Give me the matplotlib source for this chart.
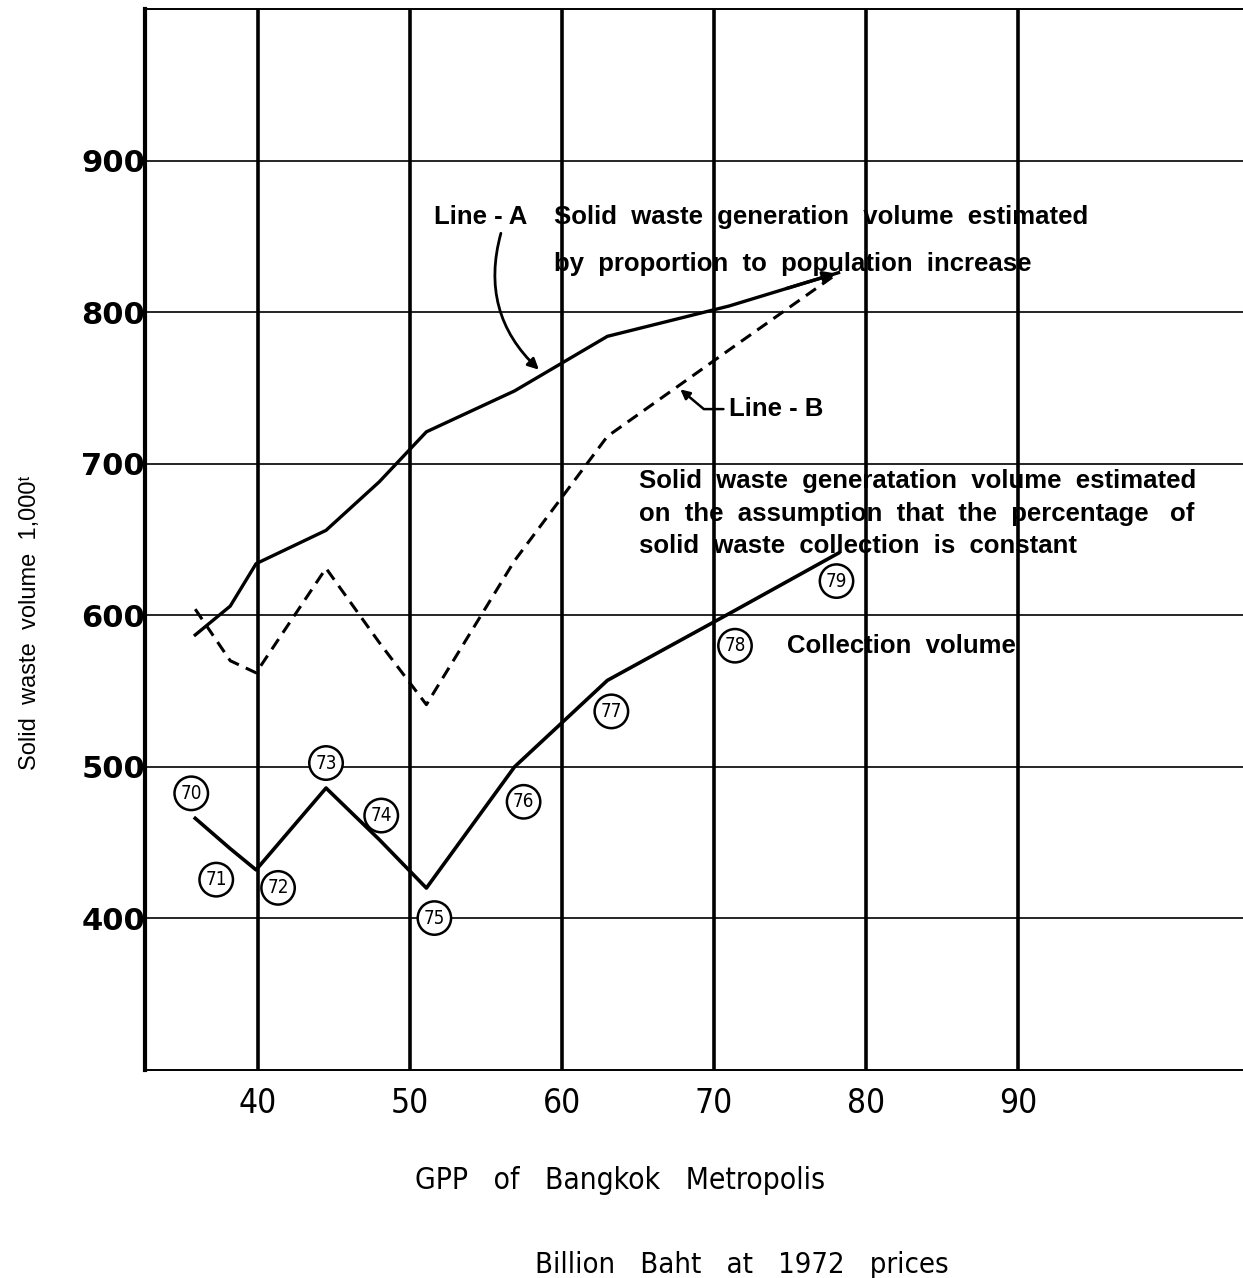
import matplotlib.pyplot as plt

# GPP (billion baht, 1972 prices) for the years 1970-1979
years = ["70", "71", "72", "73", "74", "75", "76", "77", "78", "79"]
gpp = [35.9, 38.2, 39.9, 44.5, 48.0, 51.1, 56.9, 63.0, 71.0, 78.2]

# solid waste volume, 1,000 t
line_a = [587, 606, 634, 656, 688, 721, 748, 784, 804, 826]
line_b = [604, 570, 562, 631, 582, 541, 636, 718, 775, 826]
collection = [466, 446, 432, 486, 452, 420, 500, 557, 601, 641]

x_ticks = [40, 50, 60, 70, 80, 90]
y_ticks = [400, 500, 600, 700, 800, 900]

# where the circled year numbers sit, in pixels from their point
label_offsets = [(-4, 25), (-14, -31), (22, -18), (0, 25), (2, 24),
                 (8, -30), (9, -35), (4, -31), (6, -32), (-2, -28)]

narrow = ["Liberation Sans Narrow", "DejaVu Sans"]
txt = dict(family="Liberation Sans", fontweight="bold", fontsize=18.5, color="black")

fig = plt.figure(figsize=(12.43, 12.78), dpi=100)
ax = fig.add_axes([0.1167, 0.1628, 0.8833, 0.8302])
ax.set_xlim(32.6, 104.8)
ax.set_ylim(300, 1000)

for x in x_ticks:
    ax.axvline(x, color="black", lw=2.6, zorder=1)
for y in y_ticks:
    ax.axhline(y, color="black", lw=1.2, zorder=1)

ax.spines["right"].set_visible(False)
ax.spines["left"].set_linewidth(3)
ax.spines["top"].set_linewidth(1.4)
ax.spines["bottom"].set_linewidth(1.4)

ax.set_xticks(x_ticks)
ax.set_yticks(y_ticks)
ax.tick_params(length=0)
ax.tick_params(axis="y", pad=0)
ax.tick_params(axis="x", pad=12)
for lab in ax.get_yticklabels():
    lab.set_fontfamily("DejaVu Sans")
    lab.set_fontweight("bold")
    lab.set_fontsize(22)
for lab in ax.get_xticklabels():
    lab.set_fontfamily(narrow)
    lab.set_fontstretch("condensed")
    lab.set_fontsize(24)

ax.plot(gpp, line_a, color="black", lw=2.4, zorder=3)
ax.plot(gpp, line_b, color="black", lw=2.2, ls=(0, (4, 2.5)), zorder=3)
ax.plot(gpp, collection, color="black", lw=2.6, zorder=3)

# arrowhead at the end of line A
ax.annotate("", xy=(gpp[-1], line_a[-1]),
            xytext=((gpp[-1] + gpp[-2]) / 2, (line_a[-1] + line_a[-2]) / 2),
            arrowprops=dict(arrowstyle="-|>", color="black", lw=2.4,
                            mutation_scale=18), zorder=3)

for yr, x, y, off in zip(years, gpp, collection, label_offsets):
    ax.annotate(yr, xy=(x, y), xytext=off, textcoords="offset pixels",
                ha="center", va="center", fontsize=13.5, family=narrow,
                fontstretch="condensed",
                bbox=dict(boxstyle="circle,pad=0.32", fc="white", ec="black", lw=1.8),
                zorder=4)

ax.text(51.6, 863, "Line - A", va="center", **txt)
ax.annotate("", xy=(58.5, 762), xytext=(56.0, 852),
            arrowprops=dict(arrowstyle="-|>", color="black", lw=2,
                            connectionstyle="arc3,rad=0.3", mutation_scale=16,
                            shrinkA=0, shrinkB=0))
ax.text(59.5, 863, "Solid  waste  generation  volume  estimated", va="center", **txt)
ax.text(59.5, 832, "by  proportion  to  population  increase", va="center", **txt)

ax.annotate("Line - B", xy=(67.8, 749), xytext=(71.0, 736), va="center",
            arrowprops=dict(arrowstyle="-|>", color="black", lw=1.8,
                            connectionstyle="angle,angleA=0,angleB=-40,rad=0",
                            mutation_scale=14, shrinkA=2, shrinkB=0),
            **txt)

ax.text(65.1, 688.5, "Solid  waste  generatation  volume  estimated", va="center", **txt)
ax.text(65.1, 667.0, "on  the  assumption  that  the  percentage   of", va="center", **txt)
ax.text(65.1, 645.8, "solid  waste  collection  is  constant", va="center", **txt)
ax.text(74.8, 580, "Collection  volume", va="center", **txt)

fig.text(0.024, 0.513, "Solid  waste  volume  1,000ᵗ", rotation=90, ha="center",
         va="center", fontsize=17, family=["Liberation Sans", "DejaVu Sans"])
fig.text(0.499, 0.076, "GPP   of   Bangkok   Metropolis", ha="center", va="center",
         fontsize=21.5, family=narrow, fontstretch="condensed")
fig.text(0.597, 0.010, "Billion   Baht   at   1972   prices", ha="center", va="center",
         fontsize=21, family=narrow, fontstretch="condensed")

fig.savefig("out.png", dpi=100)
